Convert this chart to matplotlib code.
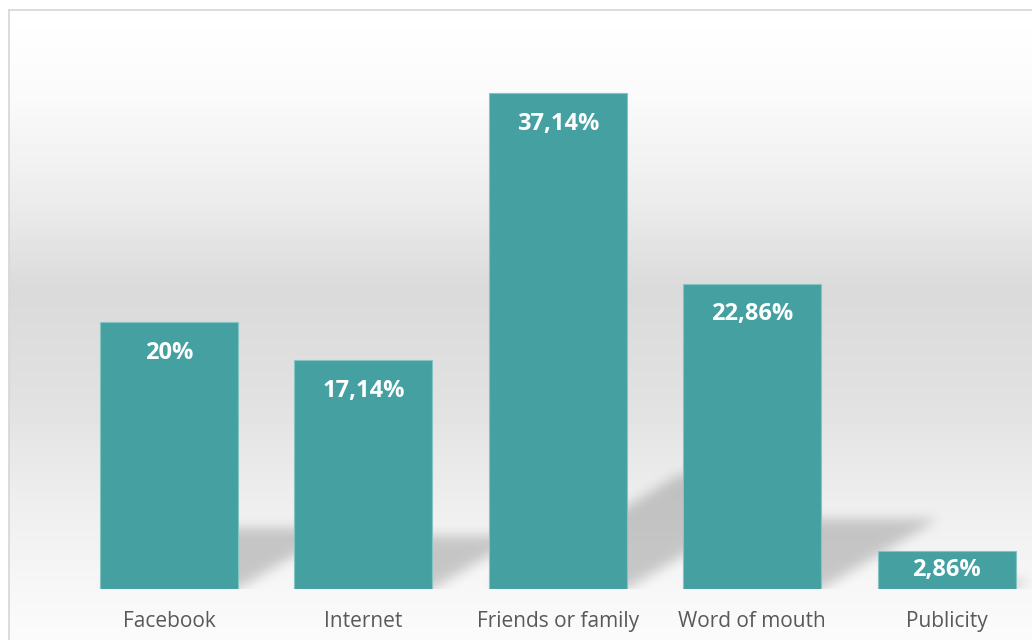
import numpy as np
import matplotlib
matplotlib.use("Agg")
import matplotlib.pyplot as plt
from matplotlib.lines import Line2D

categories = ["Facebook", "Internet", "Friends or family", "Word of mouth", "Publicity"]
shares = [20, 17.14, 37.14, 22.86, 2.86]

plt.rcParams["font.family"] = ["Open Sans", "DejaVu Sans"]

W, H = 1032, 640
step = 194.4      # px between categories
px_pct = 13.35    # px per percent
base = 51         # baseline, px from bottom

fig = plt.figure(figsize=(W / 100, H / 100), dpi=100)
fig.patch.set_facecolor("white")

# chart area with vertical grey gradient
bg = fig.add_axes([9 / W, 0, 1 - 9 / W, 630 / H])
bg.axis("off")
stop_px = [0, 90, 190, 280, 390, 490, 580, 630]
stop_val = [255, 250, 236, 218, 225, 238, 247, 251]
grad = np.interp(np.arange(630), stop_px, stop_val) / 255
bg.imshow(grad[:, None], cmap="gray", vmin=0, vmax=1, aspect="auto",
          extent=(0, 1, 0, 1), origin="upper")
bg.set_xlim(0, 1)
bg.set_ylim(0, 1)

fig.add_artist(Line2D([8.5 / W, 8.5 / W], [0, 630.5 / H], color="#d6d6d6", lw=1.2))
fig.add_artist(Line2D([8.5 / W, 1], [630.5 / H, 630.5 / H], color="#d6d6d6", lw=1.2))

ax = fig.add_axes([0, base / H, 1, (H - base) / H])
ax.patch.set_visible(False)
ax.set_xlim(-169 / step, (W - 169) / step)
ax.set_ylim(0, (H - base) / px_pct)
for s in ax.spines.values():
    s.set_visible(False)

x = np.arange(len(categories))
bw = 0.71
bars = ax.bar(x, shares, width=bw, color="#45A0A2", edgecolor="#86c4c4",
              linewidth=0.8, zorder=3)

# perspective shadows: sheared copies of the bars, blurred
ph = H - base
X, Y = np.meshgrid(np.arange(W) + 0.5, np.arange(ph) + 0.5)
mask = np.zeros((ph, W))
for xi, v in zip(x, shares):
    x0 = ax.transData.transform((xi - bw / 2, 0))[0]
    x1 = ax.transData.transform((xi + bw / 2, 0))[0]
    h = ax.transData.transform((xi, v))[1] - ax.transData.transform((xi, 0))[1]
    sel = (Y <= 0.23 * h) & (X >= x0 + Y / 0.6) & (X <= x1 + Y / 0.6)
    mask[sel] = 1
k = np.arange(-18, 19)
kern = np.exp(-k ** 2 / (2 * 6.0 ** 2))
kern /= kern.sum()
mask = np.apply_along_axis(lambda r: np.convolve(r, kern, mode="same"), 1, mask)
mask = np.apply_along_axis(lambda c: np.convolve(c, kern, mode="same"), 0, mask)
shadow = np.zeros((ph, W, 4))
shadow[..., 3] = mask * 0.19
ax.imshow(shadow, origin="lower", aspect="auto", zorder=1,
          extent=(*ax.get_xlim(), *ax.get_ylim()))
ax.set_xlim(-169 / step, (W - 169) / step)
ax.set_ylim(0, (H - base) / px_pct)

for xi, v in zip(x, shares):
    txt = f"{v:g}".replace(".", ",") + "%"
    if v * px_pct > 60:
        ax.annotate(txt, (xi, v), xytext=(0, -22), textcoords="offset points",
                    ha="center", va="center", color="white", fontsize=17,
                    fontweight="bold", zorder=4)
    else:
        ax.text(xi, v / 2, txt, ha="center", va="center", color="white",
                fontsize=17, fontweight="bold", zorder=4)

ax.set_xticks(x, categories)
ax.set_yticks([])
ax.tick_params(axis="x", length=0, pad=16, labelsize=15, labelcolor="#595959")

fig.savefig("out.png", dpi=100)
